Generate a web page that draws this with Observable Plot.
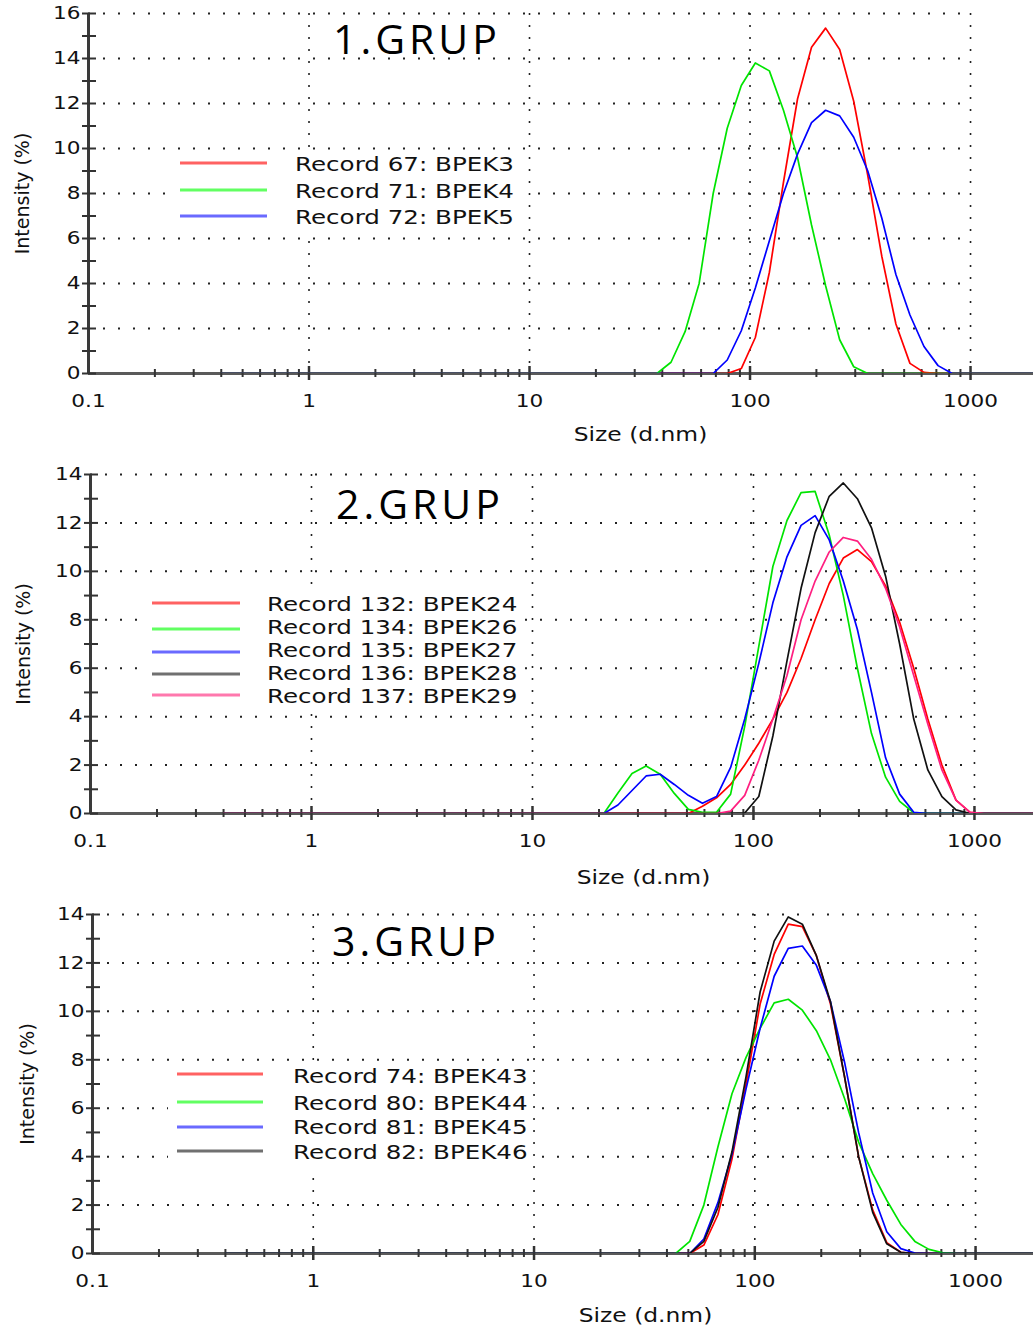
<!DOCTYPE html>
<html><head><meta charset="utf-8">
<script src="https://cdn.jsdelivr.net/npm/d3@7"></script>
<script src="https://cdn.jsdelivr.net/npm/@observablehq/plot@0.6"></script>
<style>
body{margin:0;background:#fff;}
#fig{position:relative;width:1033px;height:1332px;overflow:hidden;font-family:"DejaVu Sans",sans-serif;background:#fff;}
.panel{position:absolute;left:0;}
.title{position:absolute;font-family:"Open Sans",sans-serif;font-size:41px;line-height:41px;color:#000;letter-spacing:4px;transform:translateY(-50%);white-space:nowrap;}
.box{position:absolute;background:#fff;}
.sw{position:absolute;height:3px;transform:translateY(-50%);}
.lt{position:absolute;font-size:19.5px;line-height:19.5px;white-space:nowrap;transform-origin:0 50%;transform:translateY(-50%) scaleX(1.26);color:#111;}
</style></head><body><div id="fig"></div>
<script>
// DLS size bins (d.nm)
const sizes = [0.4,0.4632,0.5365,0.6213,0.7195,0.8332,0.9649,1.117,1.294,1.499,
1.736,2.01,2.328,2.696,3.122,3.615,4.187,4.849,5.615,6.503,
7.531,8.721,10.1,11.7,13.54,15.69,18.17,21.04,24.36,28.21,
32.67,37.84,43.82,50.75,58.77,68.06,78.82,91.28,105.7,122.4,
141.8,164.2,190.1,220.2,255,295.3,342,396.1,458.7,531.2,
615.1,712.4,825,955.4,1106,1281,1484,1718,1990,2305];

const xTicks = [0.1, 1, 10, 100, 1000];
const xTickLabels = ["0.1", "1", "10", "100", "1000"];
const xMinorTicks = [0.2,0.3,0.4,0.5,0.6,0.7,0.8,0.9,2,3,4,5,6,7,8,9,20,30,40,50,60,70,80,90,200,300,400,500,600,700,800,900];
const xLabel = "Size (d.nm)";
const yLabel = "Intensity (%)";
const yTicks16 = [0,2,4,6,8,10,12,14,16];
const yTicks14 = [0,2,4,6,8,10,12,14];
const yMinor16 = [0,1,2,3,4,5,6,7,8,9,10,11,12,13,14,15,16];
const yMinor14 = [0,1,2,3,4,5,6,7,8,9,10,11,12,13,14];

const titles = ["1.GRUP", "2.GRUP", "3.GRUP"];

// Group 1
const g1Names = ["Record 67: BPEK3", "Record 71: BPEK4", "Record 72: BPEK5"];
const g1_BPEK3 = [0,0,0,0,0,0,0,0,0,0, 0,0,0,0,0,0,0,0,0,0, 0,0,0,0,0,0,0,0,0,0,
0,0,0,0,0,0,0,0.22,1.6,4.5,
8.5,12.2,14.5,15.35,14.4,12.1,8.8,5.2,2.2,0.45,
0.05,0,0,0,0,0,0,0,0,0];
const g1_BPEK4 = [0,0,0,0,0,0,0,0,0,0, 0,0,0,0,0,0,0,0,0,0, 0,0,0,0,0,0,0,0,0,0,
0,0,0.5,1.86,4.0,8.0,10.9,12.8,13.8,13.45,
11.7,9.6,6.6,3.9,1.5,0.3,0,0,0,0,
0,0,0,0,0,0,0,0,0,0];
const g1_BPEK5 = [0,0,0,0,0,0,0,0,0,0, 0,0,0,0,0,0,0,0,0,0, 0,0,0,0,0,0,0,0,0,0,
0,0,0,0,0,0,0.6,1.9,3.8,5.9,
8.0,9.75,11.15,11.7,11.45,10.5,9.0,6.9,4.4,2.6,
1.2,0.35,0,0,0,0,0,0,0,0];

// Group 2
const g2Names = ["Record 132: BPEK24", "Record 134: BPEK26", "Record 135: BPEK27", "Record 136: BPEK28", "Record 137: BPEK29"];
const g2_BPEK24 = [0,0,0,0,0,0,0,0,0,0, 0,0,0,0,0,0,0,0,0,0, 0,0,0,0,0,0,0,0,0,0,
0,0,0,0,0.3,0.65,1.2,2.0,2.9,3.9,
5.0,6.4,8.0,9.5,10.55,10.9,10.4,9.4,7.9,6.0,
3.9,2.0,0.55,0.05,0,0,0,0,0,0];
const g2_BPEK26 = [0,0,0,0,0,0,0,0,0,0, 0,0,0,0,0,0,0,0,0,0,
0,0,0,0,0,0,0,0,0.85,1.65,
1.96,1.62,0.83,0.17,0.05,0.05,0.8,3.6,6.9,10.2,
12.1,13.25,13.3,11.5,9.0,6.0,3.3,1.5,0.5,0.03,
0,0,0,0,0,0,0,0,0,0];
const g2_BPEK27 = [0,0,0,0,0,0,0,0,0,0, 0,0,0,0,0,0,0,0,0,0,
0,0,0,0,0,0,0,0,0.35,0.95,
1.55,1.62,1.2,0.75,0.42,0.7,1.9,3.9,6.2,8.7,
10.6,11.9,12.3,11.3,9.6,7.6,5.0,2.3,0.8,0.05,
0,0,0,0,0,0,0,0,0,0];
const g2_BPEK28 = [0,0,0,0,0,0,0,0,0,0, 0,0,0,0,0,0,0,0,0,0, 0,0,0,0,0,0,0,0,0,0,
0,0,0,0,0,0,0,0.02,0.7,3.2,
6.3,9.3,11.6,13.1,13.65,13.0,11.8,9.8,7.0,3.9,
1.8,0.7,0.15,0,0,0,0,0,0,0];
const g2_BPEK29 = [0,0,0,0,0,0,0,0,0,0, 0,0,0,0,0,0,0,0,0,0, 0,0,0,0,0,0,0,0,0,0,
0,0,0,0,0,0,0.1,0.75,2.2,3.9,
5.7,8.0,9.6,10.8,11.4,11.25,10.5,9.3,7.7,5.7,
3.7,1.8,0.55,0.05,0,0,0,0,0,0];

// Group 3
const g3Names = ["Record 74: BPEK43", "Record 80: BPEK44", "Record 81: BPEK45", "Record 82: BPEK46"];
const g3_BPEK43 = [0,0,0,0,0,0,0,0,0,0, 0,0,0,0,0,0,0,0,0,0, 0,0,0,0,0,0,0,0,0,0,
0,0,0,0,0.35,1.6,3.9,7.0,10.3,12.35,
13.6,13.5,12.3,10.3,7.3,4.0,1.8,0.45,0.05,0,
0,0,0,0,0,0,0,0,0,0];
const g3_BPEK44 = [0,0,0,0,0,0,0,0,0,0, 0,0,0,0,0,0,0,0,0,0, 0,0,0,0,0,0,0,0,0,0,
0,0,0,0.5,2.0,4.4,6.6,8.1,9.3,10.35,
10.5,10.05,9.2,8.0,6.4,4.6,3.3,2.2,1.2,0.5,
0.17,0.03,0,0,0,0,0,0,0,0];
const g3_BPEK45 = [0,0,0,0,0,0,0,0,0,0, 0,0,0,0,0,0,0,0,0,0, 0,0,0,0,0,0,0,0,0,0,
0,0,0,0,0.6,2.1,4.1,6.8,9.3,11.45,
12.6,12.7,11.9,10.4,7.9,5.0,2.5,0.9,0.2,0.02,
0,0,0,0,0,0,0,0,0,0];
const g3_BPEK46 = [0,0,0,0,0,0,0,0,0,0, 0,0,0,0,0,0,0,0,0,0, 0,0,0,0,0,0,0,0,0,0,
0,0,0,0,0.5,1.9,4.2,7.3,10.8,12.9,
13.9,13.6,12.3,10.4,7.3,4.0,1.7,0.4,0.05,0,
0,0,0,0,0,0,0,0,0,0];

// Styling
const lineColors = {red:"#ff0000", green:"#00e400", blue:"#0000ff", black:"#111111", pink:"#ff1f80"};
const swatchColors = {red:"#ff6262", green:"#62ff62", blue:"#6a6aff", black:"#707070", pink:"#ff78ad"};

const panels = [
  {title: titles[0], top: 0, height: 450, ml: 88, mt: 13, mb: 77, xMax: 1930, yMax: 16,
   yTicks: yTicks16, yMinor: yMinor16, xlab: {dx: 79.5, dy: 61}, ylab: {dx: -66},
   series: [[g1_BPEK3,"red"],[g1_BPEK4,"green"],[g1_BPEK5,"blue"]], names: g1Names,
   titlePos: {left: 333, cy: 37.5},
   box: {left: 170, top: 151, width: 355, height: 80},
   sw: {x1: 180, x2: 267, ys: [163, 190, 216]}, tx: {x: 295, ys: [165, 192, 218]}},
  {title: titles[1], top: 450, height: 440, ml: 90, mt: 24, mb: 77, xMax: 1850, yMax: 14,
   yTicks: yTicks14, yMinor: yMinor14, xlab: {dx: 81.5, dy: 64}, ylab: {dx: -67},
   series: [[g2_BPEK24,"red"],[g2_BPEK26,"green"],[g2_BPEK27,"blue"],[g2_BPEK28,"black"],[g2_BPEK29,"pink"]], names: g2Names,
   titlePos: {left: 336, cy: 502.5},
   box: {left: 143, top: 591, width: 380, height: 117},
   sw: {x1: 152, x2: 240, ys: [603.3, 628.5, 651.5, 674, 695]}, tx: {x: 267, ys: [605, 628, 651, 674, 697]}},
  {title: titles[2], top: 890, height: 442, ml: 92, mt: 24, mb: 79, xMax: 1830, yMax: 14,
   yTicks: yTicks14, yMinor: yMinor14, xlab: {dx: 82.5, dy: 62}, ylab: {dx: -65},
   series: [[g3_BPEK43,"red"],[g3_BPEK44,"green"],[g3_BPEK45,"blue"],[g3_BPEK46,"black"]], names: g3Names,
   titlePos: {left: 332, cy: 940},
   box: {left: 168, top: 1062, width: 362, height: 106},
   sw: {x1: 177, x2: 263, ys: [1074.3, 1102.3, 1126.7, 1151]}, tx: {x: 293, ys: [1076.7, 1104.3, 1128.3, 1153.3]}}
];

const fig = document.getElementById("fig");

function stretchText(svg, k) {
  svg.querySelectorAll("text").forEach(t => {
    const tr = t.getAttribute("transform") || "";
    let rotated = tr.includes("rotate");
    let p = t.parentNode;
    while (p && p !== svg) { if ((p.getAttribute && (p.getAttribute("transform")||"")).includes("rotate")) rotated = true; p = p.parentNode; }
    if (rotated) return;
    const bb = t.getBBox();
    const anchor = getComputedStyle(t).textAnchor;
    const ax = anchor === "end" ? bb.x + bb.width : anchor === "middle" ? bb.x + bb.width / 2 : bb.x;
    t.setAttribute("transform", `${tr} translate(${ax},0) scale(${k},1) translate(${-ax},0)`);
  });
}

panels.forEach(p => {
  const W = 1033;
  const plotW = W - p.ml;
  const plotH = p.height - p.mt - p.mb;
  const lineMarks = p.series.map(([vals, c]) =>
    Plot.line(sizes.map((s, i) => ({size: s, value: vals[i]})),
      {x: "size", y: "value", stroke: lineColors[c], strokeWidth: 1.7, clip: true}));
  const svg = Plot.plot({
    width: W, height: p.height,
    marginLeft: p.ml, marginRight: 0, marginTop: p.mt, marginBottom: p.mb,
    x: {type: "log", domain: [0.1, p.xMax]},
    y: {domain: [0, p.yMax]},
    style: {fontFamily: "DejaVu Sans, sans-serif", fontSize: "18px", color: "#111", background: "white", overflow: "visible"},
    marks: [
      Plot.ruleY(p.yTicks.filter(d => d > 0), {x1: xTicks[0], x2: xTicks[xTicks.length - 1], stroke: "#222", strokeWidth: 2, strokeDasharray: "2,13"}),
      Plot.ruleX(xTicks.slice(1), {stroke: "#222", strokeWidth: 1.6, strokeDasharray: "2,10"}),
      Plot.ruleY([0], {stroke: "#5a5a5a", strokeWidth: 3}),
      Plot.ruleX([xTicks[0]], {stroke: "#3a3a3a", strokeWidth: 3}),
      Plot.tickY(p.yMinor, {y: d => d, insetLeft: -6, insetRight: plotW - 8, stroke: "#333", strokeWidth: 2}),
      Plot.tickX(xMinorTicks, {x: d => d, insetTop: plotH - 4, insetBottom: -4, stroke: "#333", strokeWidth: 2}),
      Plot.tickX(xTicks.slice(1), {x: d => d, insetTop: plotH - 7, insetBottom: -7, stroke: "#333", strokeWidth: 2.5}),
      ...lineMarks,
      Plot.axisX({ticks: xTicks, tickFormat: d => xTickLabels[xTicks.indexOf(d)], tickSize: 0, tickPadding: 21, fontSize: 18, label: null}),
      Plot.axisY({ticks: p.yTicks, tickSize: 0, tickPadding: 8, fontSize: 18, label: null}),
      Plot.text([xLabel], {frameAnchor: "bottom", textAnchor: "middle", lineAnchor: "middle", dx: p.xlab.dx, dy: p.xlab.dy, fontSize: 19.5, fill: "#111"}),
      Plot.text([yLabel], {frameAnchor: "left", textAnchor: "middle", lineAnchor: "middle", dx: p.ylab.dx, rotate: -90, fontSize: 19, fill: "#111"})
    ]
  });
  const wrap = document.createElement("div");
  wrap.className = "panel";
  wrap.style.top = p.top + "px";
  wrap.appendChild(svg);
  fig.appendChild(wrap);
  stretchText(svg, 1.2);

  // legend box (white), swatches and labels
  const box = document.createElement("div");
  box.className = "box";
  Object.assign(box.style, {left: p.box.left + "px", top: p.box.top + "px", width: p.box.width + "px", height: p.box.height + "px"});
  fig.appendChild(box);
  p.series.forEach(([vals, c], i) => {
    const sw = document.createElement("div");
    sw.className = "sw";
    Object.assign(sw.style, {left: p.sw.x1 + "px", top: p.sw.ys[i] + "px", width: (p.sw.x2 - p.sw.x1) + "px", background: swatchColors[c]});
    fig.appendChild(sw);
    const lt = document.createElement("div");
    lt.className = "lt";
    lt.textContent = p.names[i];
    Object.assign(lt.style, {left: p.tx.x + "px", top: p.tx.ys[i] + "px"});
    fig.appendChild(lt);
  });

  const t = document.createElement("div");
  t.className = "title";
  t.textContent = p.title;
  Object.assign(t.style, {left: p.titlePos.left + "px", top: p.titlePos.cy + "px"});
  fig.appendChild(t);
});
</script>
</body></html>
